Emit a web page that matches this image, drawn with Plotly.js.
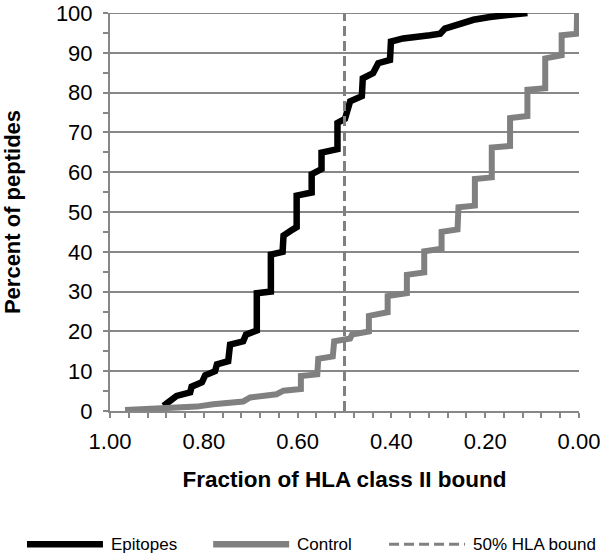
<!DOCTYPE html>
<html>
<head>
<meta charset="utf-8">
<script src="https://cdn.plot.ly/plotly-3.0.1.min.js"></script>
<style>html,body{margin:0;padding:0;background:#fff;}#chart{width:600px;height:554px;}</style>
</head>
<body>
<div id="chart"></div>
<script>
// Epitopes cumulative curve (fraction bound, percent of peptides)
const epitopesX = [0.886,0.879,0.858,0.829,0.826,0.804,0.797,0.776,0.772,0.748,0.744,0.716,0.710,0.687,0.687,0.657,0.657,0.632,0.630,0.613,0.602,0.602,0.570,0.570,0.549,0.549,0.515,0.515,0.499,0.488,0.463,0.461,0.439,0.428,0.403,0.401,0.375,0.318,0.296,0.286,0.254,0.225,0.190,0.154,0.126,0.110];
const epitopesY = [1.3,1.9,3.8,4.7,6.1,7.2,9.0,10.0,11.7,12.5,16.7,17.5,19.2,20.2,29.6,30.0,39.3,40.0,44.1,45.4,46.2,54.1,54.9,59.5,60.8,64.9,65.8,72.4,73.4,77.8,79.1,83.6,84.9,87.4,88.2,92.8,93.6,94.4,94.8,96.1,97.3,98.3,99.0,99.4,99.8,100];
// Control cumulative curve
const controlX = [0.968,0.893,0.815,0.780,0.716,0.701,0.645,0.630,0.593,0.593,0.558,0.556,0.525,0.522,0.488,0.484,0.448,0.448,0.408,0.408,0.367,0.367,0.330,0.330,0.293,0.293,0.259,0.257,0.222,0.222,0.186,0.186,0.147,0.147,0.110,0.110,0.072,0.072,0.037,0.037,0.005,0.004];
const controlY = [0.25,0.7,1.1,1.7,2.4,3.4,4.2,5.1,5.5,8.8,9.2,13.1,13.7,17.5,18.2,19.2,20.0,23.9,24.8,28.9,29.6,34.2,34.8,40.1,40.8,45.0,45.6,51.2,51.6,58.3,58.7,66.2,66.6,73.6,74.1,80.7,81.1,88.6,89.4,94.4,94.8,100];
// 50% HLA bound reference line
const thresholdX = [0.5,0.5];
const thresholdY = [0,100];
const seriesNames = ["Epitopes","Control","50% HLA bound"];
const xTickVals = [1.0,0.8,0.6,0.4,0.2,0.0];
const xTickText = ["1.00","0.80","0.60","0.40","0.20","0.00"];
const yMax = 100;

const colors = ["#000000","#808080","#808080"];
const widths = [6.5,6,3];
const dashes = ["solid","solid","10px,5px"];

const traces = [
  {x: epitopesX, y: epitopesY},
  {x: controlX, y: controlY},
  {x: thresholdX, y: thresholdY}
].map((t,i)=>Object.assign(t,{
  type:"scatter", mode:"lines", name:seriesNames[i], showlegend:false,
  line:{color:colors[i], width:widths[i], dash:dashes[i]}, hoverinfo:"skip"
}));

const gridColor = "#878787";

// top gridline (Plotly drops the one on the plot edge)
const shapes = [{type:"line", xref:"paper", yref:"y", x0:0, x1:1, y0:yMax, y1:yMax, layer:"below",
  line:{color:gridColor, width:2}}];
const annotations = [];
// custom legend (long line samples like the original)
const legX = [-0.177, 0.220, 0.595];  // sample start (paper)
const sampleLen = 0.162;
const legY = -0.335;
seriesNames.forEach((n,i)=>{
  shapes.push({type:"line", xref:"paper", yref:"paper", x0:legX[i], x1:legX[i]+sampleLen, y0:legY, y1:legY,
    line:{color:colors[i], width:i===2?3:6.5, dash:dashes[i]}});
  annotations.push({xref:"paper", yref:"paper", x:legX[i]+sampleLen+0.013, y:legY, xanchor:"left", yanchor:"middle",
    text:n, showarrow:false, font:{size:17, color:"#000"}});
});

const layout = {
  width:600, height:554,
  margin:{l:110, r:21, t:13, b:143},
  paper_bgcolor:"#fff", plot_bgcolor:"#fff",
  font:{family:"Liberation Sans, Arial, sans-serif", color:"#000"},
  showlegend:false,
  xaxis:{
    range:[1,0], tickvals:xTickVals, ticktext:xTickText,
    showgrid:false, zeroline:false,
    showline:true, linecolor:gridColor, linewidth:2,
    ticks:"outside", ticklen:5, tickwidth:2, tickcolor:gridColor,
    minor:{dtick:0.04, tick0:0, ticks:"outside", ticklen:5, tickwidth:2, tickcolor:gridColor, showgrid:false},
    tickfont:{size:22}, ticklabelstandoff:5, ticklabeloverflow:"allow",
    title:{text:"<b>Fraction of HLA class II bound</b>", font:{size:22.5}, standoff:18}
  },
  yaxis:{
    range:[0,yMax], dtick:10, tick0:0,
    showgrid:true, gridcolor:gridColor, gridwidth:2, zeroline:false,
    showline:true, linecolor:gridColor, linewidth:2,
    ticks:"outside", ticklen:5, tickwidth:2, tickcolor:gridColor,
    minor:{dtick:5, ticks:"outside", ticklen:5, tickwidth:2, tickcolor:gridColor, showgrid:false},
    tickfont:{size:22}, ticklabelstandoff:6, ticklabeloverflow:"allow",
    title:{text:"<b>Percent of peptides</b>", font:{size:22}, standoff:40}
  },
  shapes:shapes, annotations:annotations
};

Plotly.newPlot("chart", traces, layout, {staticPlot:true, displayModeBar:false});
</script>
</body>
</html>
